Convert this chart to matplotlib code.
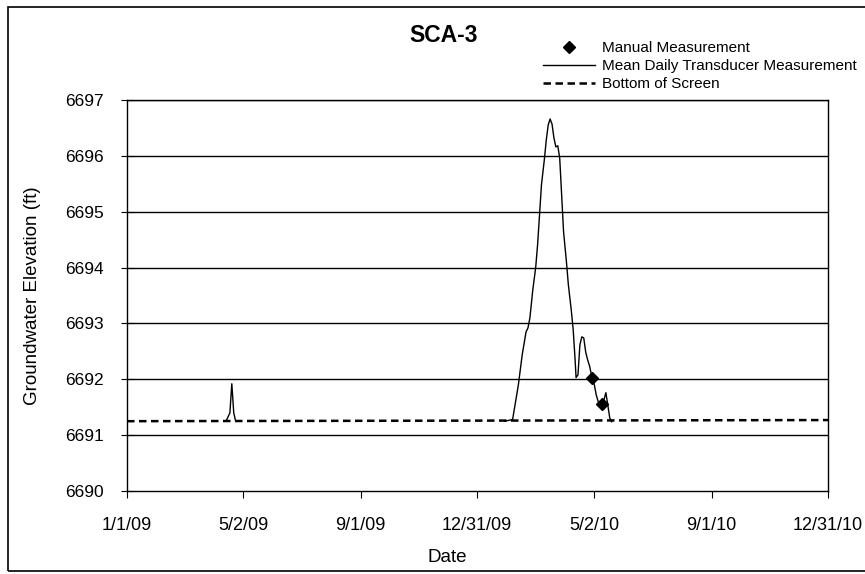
import numpy as np
import pandas as pd
import matplotlib
matplotlib.use("Agg")
import matplotlib.pyplot as plt
from matplotlib.patches import Rectangle

plt.rcParams['font.family'] = ['Liberation Sans', 'DejaVu Sans']

# --- data ---
spike_dates = ['2009-04-14', '2009-04-18', '2009-04-20', '2009-04-22', '2009-04-24']
spike_vals = [6691.25, 6691.40, 6691.92, 6691.40, 6691.25]

trans_dates = ['2010-01-29', '2010-02-06', '2010-02-12', '2010-02-16', '2010-02-20',
               '2010-02-22', '2010-02-24', '2010-02-27', '2010-03-02', '2010-03-04',
               '2010-03-06', '2010-03-08', '2010-03-11', '2010-03-13', '2010-03-15',
               '2010-03-17', '2010-03-19', '2010-03-21', '2010-03-23', '2010-03-25',
               '2010-03-27', '2010-03-29', '2010-03-31', '2010-04-03', '2010-04-05',
               '2010-04-08', '2010-04-10', '2010-04-12', '2010-04-13', '2010-04-15',
               '2010-04-17', '2010-04-19', '2010-04-21', '2010-04-23', '2010-04-25',
               '2010-04-27', '2010-04-29', '2010-05-02', '2010-05-04', '2010-05-06',
               '2010-05-08', '2010-05-10', '2010-05-12', '2010-05-14', '2010-05-16',
               '2010-05-18', '2010-05-20']
trans_vals = [6691.25, 6691.28, 6691.90, 6692.44, 6692.85,
              6692.92, 6693.10, 6693.60, 6694.00, 6694.41,
              6694.94, 6695.48, 6695.93, 6696.28, 6696.55,
              6696.66, 6696.57, 6696.32, 6696.16, 6696.18,
              6695.96, 6695.30, 6694.64, 6694.10, 6693.69,
              6693.24, 6692.89, 6692.35, 6692.03, 6692.08,
              6692.62, 6692.76, 6692.74, 6692.49, 6692.35,
              6692.24, 6692.08, 6691.90, 6691.72, 6691.60,
              6691.54, 6691.49, 6691.63, 6691.76, 6691.54,
              6691.31, 6691.24]

manual_dates = ['2010-04-30', '2010-05-10']
manual_vals = [6692.02, 6691.55]

screen_dates = ['2009-01-01', '2010-12-31']
screen_vals = [6691.25, 6691.27]

tick_labels = ['1/1/09', '5/2/09', '9/1/09', '12/31/09', '5/2/10', '9/1/10', '12/31/10']
y_ticks = [6690, 6691, 6692, 6693, 6694, 6695, 6696, 6697]

fig = plt.figure(figsize=(8.65, 5.74), dpi=100)
ax = fig.add_axes([127/865, 1 - 491/574, (828-127)/865, (491-100)/574])

for v in y_ticks[1:]:
    ax.axhline(v, color='black', lw=1.0, zorder=1)

ax.plot(pd.to_datetime(screen_dates), screen_vals, color='black', lw=1.8,
        ls=(0, (3, 1.8)), label='Bottom of Screen', zorder=3)
ax.plot(pd.to_datetime(spike_dates), spike_vals, color='black', lw=1.0, zorder=4)
ax.plot(pd.to_datetime(trans_dates), trans_vals, color='black', lw=1.0,
        label='Mean Daily Transducer Measurement', zorder=4)
ax.plot(pd.to_datetime(manual_dates), manual_vals, ls='none', marker='D',
        color='black', ms=6, label='Manual Measurement', zorder=5)

tick_pos = pd.to_datetime(tick_labels, format='%m/%d/%y')
ax.set_xlim(tick_pos[0], tick_pos[-1])
ax.set_xticks(tick_pos)
ax.set_xticklabels(tick_labels)
ax.set_ylim(y_ticks[0], y_ticks[-1])
ax.set_yticks(y_ticks)
ax.set_yticklabels([str(v) for v in y_ticks])

for s in ax.spines.values():
    s.set_color('black')
    s.set_linewidth(1.0)
ax.tick_params(axis='y', direction='inout', length=8, labelsize=12.5, pad=13)
ax.tick_params(axis='x', direction='out', length=5, labelsize=13, pad=14)

ax.set_xlabel('Date', fontsize=13.5, va='center')
ax.set_ylabel('Groundwater Elevation (ft)', fontsize=13.5, va='center')
ax.xaxis.set_label_coords(0.457, -(557-491)/391)
ax.yaxis.set_label_coords((32-127)/701, 0.5)
fig.text(444/865, 1 - 36/574, 'SCA-3', ha='center', va='center',
         fontsize=16.5, fontweight='bold')

handles, labels = ax.get_legend_handles_labels()
order = [2, 1, 0]
fig.legend([handles[i] for i in order], [labels[i] for i in order],
           loc='upper left', bbox_to_anchor=(543/865, 1 - 41/574),
           frameon=False, fontsize=11, handlelength=3.4, handletextpad=0.45,
           labelspacing=0.26, borderpad=0, borderaxespad=0)

fig.patches.append(Rectangle((8/865, 1 - 571/574), 870/865, (571-7)/574,
                             transform=fig.transFigure, fill=False,
                             edgecolor='black', lw=1.2))

fig.savefig('out.png', dpi=100)
